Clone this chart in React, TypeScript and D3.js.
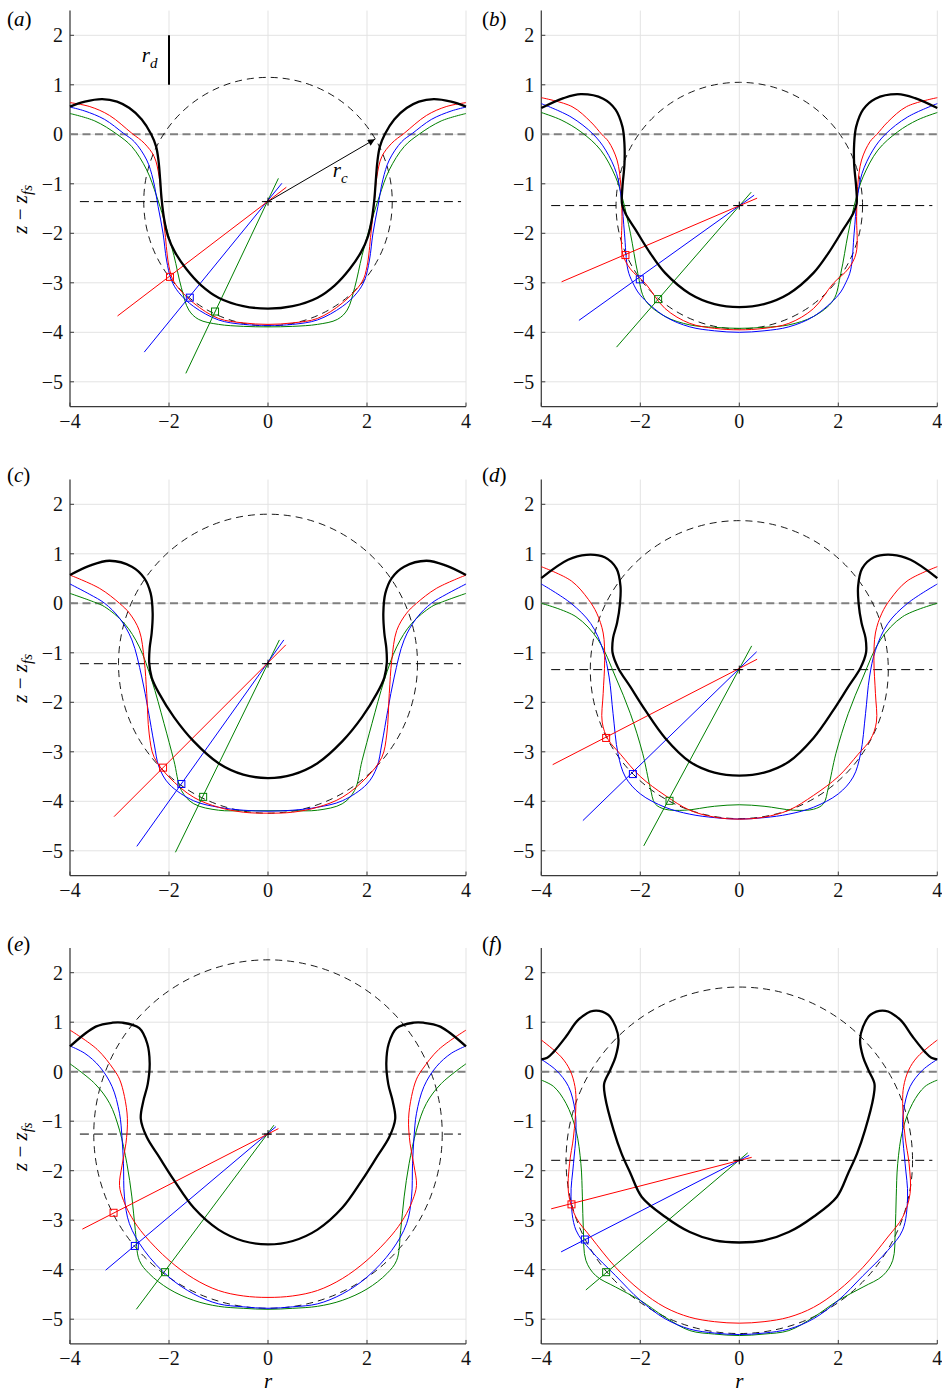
import React from 'react';
import * as d3 from 'd3';

type Pt = [number, number];

const panelLetters = ['a', 'b', 'c', 'd', 'e', 'f'];
const yTicks = [2, 1, 0, -1, -2, -3, -4, -5];
const xTicks = [-4, -2, 0, 2, 4];

// fitted cavity circle: centre height z_c and radius r_c
const circleZc = [-1.36, -1.44, -1.22, -1.34, -1.26, -1.79];
const circleRc = [2.51, 2.49, 3.02, 3.01, 3.52, 3.5];
const centreLineSpan = [-3.8, 3.9];

// black profiles (r >= 0 half, from the axis outwards)
const blackA: Pt[] = [[0, -3.52], [0.5, -3.47], [1.0, -3.3], [1.35, -3.05], [1.65, -2.72], [1.88, -2.38], [2.02, -2.06], [2.1, -1.7], [2.15, -1.3], [2.18, -0.9], [2.21, -0.55], [2.26, -0.25], [2.36, 0.0], [2.55, 0.3], [2.8, 0.53], [3.05, 0.66], [3.35, 0.71], [3.7, 0.66], [4.0, 0.56]];
const blackB: Pt[] = [[0, -3.49], [0.5, -3.43], [1.0, -3.22], [1.5, -2.8], [1.8, -2.4], [2.1, -1.92], [2.3, -1.6], [2.37, -1.4], [2.36, -1.06], [2.32, -0.6], [2.32, -0.2], [2.36, 0.15], [2.5, 0.5], [2.75, 0.72], [3.2, 0.81], [3.55, 0.73], [4.0, 0.53]];
const blackC: Pt[] = [[0, -3.53], [0.5, -3.46], [1.0, -3.23], [1.5, -2.79], [1.9, -2.3], [2.2, -1.82], [2.35, -1.5], [2.4, -1.2], [2.39, -0.9], [2.35, -0.6], [2.33, -0.2], [2.37, 0.2], [2.5, 0.51], [2.75, 0.74], [3.2, 0.86], [3.6, 0.76], [4.0, 0.57]];
const blackD: Pt[] = [[0, -3.48], [0.5, -3.42], [1.0, -3.2], [1.5, -2.72], [1.9, -2.16], [2.2, -1.69], [2.45, -1.3], [2.56, -1.0], [2.55, -0.7], [2.47, -0.4], [2.41, 0.0], [2.4, 0.34], [2.48, 0.7], [2.72, 0.93], [3.09, 0.98], [3.46, 0.88], [4.0, 0.51]];
const blackE: Pt[] = [[0, -3.49], [0.5, -3.42], [1.0, -3.19], [1.5, -2.75], [1.9, -2.19], [2.2, -1.72], [2.45, -1.32], [2.57, -0.95], [2.52, -0.6], [2.43, -0.25], [2.39, 0.17], [2.44, 0.57], [2.6, 0.88], [2.94, 0.99], [3.14, 0.99], [3.48, 0.91], [4.0, 0.51]];
const blackF: Pt[] = [[0, -3.45], [0.5, -3.41], [1.0, -3.24], [1.5, -2.93], [1.97, -2.53], [2.2, -2.05], [2.38, -1.65], [2.54, -1.18], [2.71, -0.51], [2.73, -0.24], [2.61, 0.03], [2.5, 0.3], [2.44, 0.64], [2.5, 0.91], [2.65, 1.15], [2.95, 1.23], [3.25, 1.05], [3.5, 0.71], [3.75, 0.4], [3.88, 0.28], [4.0, 0.25]];

// red, blue, green profiles (r >= 0 half)
const redA: Pt[] = [[0, -3.84], [0.5, -3.81], [1.0, -3.72], [1.5, -3.41], [1.9, -2.98], [2.0, -2.67], [2.08, -2.0], [2.15, -1.33], [2.2, -0.85], [2.3, -0.45], [2.5, -0.18], [2.75, 0.02], [3.2, 0.38], [3.6, 0.56], [4.0, 0.64]];
const blueA: Pt[] = [[0, -3.86], [0.5, -3.84], [1.0, -3.75], [1.5, -3.48], [1.8, -3.2], [1.95, -2.95], [2.05, -2.54], [2.12, -2.0], [2.22, -1.46], [2.32, -0.92], [2.45, -0.52], [2.7, -0.15], [2.92, 0.02], [3.3, 0.3], [3.7, 0.47], [4.0, 0.55]];
const greenA: Pt[] = [[0, -3.89], [0.5, -3.88], [1.0, -3.84], [1.4, -3.74], [1.6, -3.55], [1.75, -3.1], [1.9, -2.45], [2.05, -1.9], [2.25, -1.25], [2.45, -0.72], [2.75, -0.25], [3.05, 0.0], [3.5, 0.27], [4.0, 0.42]];

const redB: Pt[] = [[0, -3.95], [0.5, -3.92], [1.0, -3.82], [1.5, -3.52], [1.9, -3.01], [2.2, -2.72], [2.36, -2.4], [2.37, -1.66], [2.39, -1.06], [2.47, -0.52], [2.64, -0.15], [2.78, 0.0], [3.0, 0.25], [3.38, 0.56], [4.0, 0.74]];
const blueB: Pt[] = [[0, -4.0], [0.5, -3.97], [1.0, -3.89], [1.5, -3.68], [2.0, -3.25], [2.15, -3.0], [2.25, -2.74], [2.32, -2.0], [2.38, -1.33], [2.48, -0.79], [2.7, -0.32], [2.95, 0.0], [3.4, 0.35], [4.0, 0.62]];
const greenB: Pt[] = [[0, -3.92], [0.5, -3.9], [1.0, -3.85], [1.5, -3.68], [1.9, -3.35], [2.05, -2.81], [2.2, -2.0], [2.35, -1.33], [2.5, -0.86], [2.8, -0.32], [3.2, 0.05], [3.6, 0.29], [4.0, 0.44]];

const redC: Pt[] = [[0, -4.24], [0.5, -4.22], [1.0, -4.12], [1.5, -3.92], [2.0, -3.51], [2.3, -3.11], [2.4, -2.64], [2.45, -1.82], [2.5, -1.15], [2.6, -0.55], [2.8, -0.2], [3.0, 0.0], [3.4, 0.3], [4.0, 0.57]];
const blueC: Pt[] = [[0, -4.2], [0.5, -4.18], [1.0, -4.12], [1.5, -3.99], [2.0, -3.65], [2.2, -3.31], [2.3, -2.84], [2.42, -2.16], [2.55, -1.49], [2.75, -0.74], [3.0, -0.3], [3.3, 0.0], [3.6, 0.18], [4.0, 0.39]];
const greenC: Pt[] = [[0, -4.19], [0.5, -4.19], [1.0, -4.18], [1.5, -4.05], [1.75, -3.78], [1.9, -3.18], [2.1, -2.43], [2.35, -1.55], [2.6, -0.88], [2.9, -0.41], [3.3, -0.07], [3.5, 0.02], [4.0, 0.2]];

const redD: Pt[] = [[0, -4.36], [0.5, -4.32], [1.0, -4.18], [1.5, -3.88], [2.0, -3.5], [2.4, -3.05], [2.65, -2.75], [2.77, -2.4], [2.75, -1.82], [2.72, -1.15], [2.75, -0.6], [2.88, -0.2], [3.05, 0.08], [3.39, 0.45], [4.0, 0.74]];
const blueD: Pt[] = [[0, -4.36], [0.5, -4.33], [1.0, -4.26], [1.5, -4.12], [2.0, -3.85], [2.3, -3.51], [2.45, -3.04], [2.55, -2.23], [2.63, -1.49], [2.75, -0.95], [3.0, -0.41], [3.4, 0.0], [4.0, 0.39]];
const greenD: Pt[] = [[0, -4.07], [0.5, -4.1], [1.1, -4.18], [1.5, -4.16], [1.7, -4.05], [1.8, -3.72], [1.95, -3.04], [2.2, -2.23], [2.5, -1.49], [2.85, -0.74], [3.3, -0.27], [4.0, 0.0]];

const redE: Pt[] = [[0, -4.56], [0.5, -4.53], [1.0, -4.42], [1.5, -4.18], [2.0, -3.81], [2.5, -3.3], [2.75, -2.95], [2.92, -2.6], [3.0, -2.3], [2.95, -1.9], [2.87, -1.45], [2.84, -0.95], [2.9, -0.5], [3.0, -0.15], [3.12, 0.05], [3.45, 0.45], [4.0, 0.84]];
const blueE: Pt[] = [[0, -4.78], [0.5, -4.75], [1.0, -4.69], [1.5, -4.49], [2.0, -4.15], [2.5, -3.61], [2.8, -3.07], [2.9, -2.53], [2.92, -1.86], [2.95, -1.32], [3.0, -0.84], [3.15, -0.3], [3.4, 0.1], [3.7, 0.37], [4.0, 0.52]];
const greenE: Pt[] = [[0, -4.8], [0.5, -4.78], [1.0, -4.74], [1.5, -4.62], [2.0, -4.39], [2.4, -4.08], [2.6, -3.81], [2.68, -3.21], [2.75, -2.53], [2.85, -1.86], [3.0, -1.18], [3.2, -0.64], [3.5, -0.24], [4.0, 0.16]];

const redF: Pt[] = [[0, -5.08], [0.5, -5.05], [1.0, -4.96], [1.5, -4.76], [2.0, -4.42], [2.5, -3.95], [3.0, -3.34], [3.3, -2.94], [3.45, -2.46], [3.43, -1.86], [3.35, -1.32], [3.3, -0.64], [3.32, -0.3], [3.42, 0.03], [3.6, 0.3], [4.0, 0.64]];
const blueF: Pt[] = [[0, -5.31], [0.5, -5.28], [1.0, -5.2], [1.5, -4.99], [2.0, -4.62], [2.5, -4.12], [3.0, -3.61], [3.3, -3.2], [3.4, -2.53], [3.35, -1.86], [3.3, -1.25], [3.32, -0.78], [3.45, -0.3], [3.7, 0.03], [4.0, 0.25]];
const greenF: Pt[] = [[0, -5.33], [0.5, -5.3], [1.0, -5.23], [1.5, -4.96], [2.0, -4.62], [2.5, -4.35], [2.9, -4.12], [3.1, -3.81], [3.15, -3.2], [3.17, -2.53], [3.2, -1.86], [3.3, -1.18], [3.5, -0.64], [3.75, -0.3], [4.0, -0.17]];

// rays (red, blue, green): far end, near end and square marker
const farA: Pt[] = [[-3.04, -3.67], [-2.5, -4.4], [-1.66, -4.83]];
const nearA: Pt[] = [[0.37, -1.07], [0.28, -0.99], [0.21, -0.89]];
const markA: Pt[] = [[-1.98, -2.88], [-1.58, -3.3], [-1.07, -3.58]];
const farB: Pt[] = [[-3.59, -2.98], [-3.24, -3.76], [-2.48, -4.3]];
const nearB: Pt[] = [[0.36, -1.29], [0.3, -1.23], [0.24, -1.17]];
const markB: Pt[] = [[-2.3, -2.44], [-2.01, -2.93], [-1.64, -3.33]];
const farC: Pt[] = [[-3.11, -4.31], [-2.65, -4.91], [-1.87, -5.03]];
const nearC: Pt[] = [[0.36, -0.84], [0.32, -0.74], [0.23, -0.74]];
const markC: Pt[] = [[-2.12, -3.32], [-1.75, -3.65], [-1.31, -3.91]];
const farD: Pt[] = [[-3.77, -3.26], [-3.16, -4.39], [-1.93, -4.9]];
const nearD: Pt[] = [[0.36, -1.13], [0.35, -0.98], [0.25, -0.86]];
const markD: Pt[] = [[-2.69, -2.72], [-2.15, -3.45], [-1.41, -3.99]];
const farE: Pt[] = [[-3.75, -3.18], [-3.28, -4.01], [-2.66, -4.8]];
const nearE: Pt[] = [[0.21, -1.15], [0.16, -1.11], [0.12, -1.08]];
const markE: Pt[] = [[-3.12, -2.85], [-2.69, -3.52], [-2.08, -4.05]];
const farF: Pt[] = [[-3.8, -2.77], [-3.6, -3.64], [-3.1, -4.41]];
const nearF: Pt[] = [[0.25, -1.73], [0.2, -1.69], [0.17, -1.64]];
const markF: Pt[] = [[-3.39, -2.68], [-3.12, -3.39], [-2.69, -4.05]];

// annotations in panel (a)
const rcArrowTip: Pt = [2.16, -0.1];
const rdBar: Pt[] = [[-2, 1], [-2, 2]];

const blacks = [blackA, blackB, blackC, blackD, blackE, blackF];
const colored = [
  [redA, blueA, greenA], [redB, blueB, greenB], [redC, blueC, greenC],
  [redD, blueD, greenD], [redE, blueE, greenE], [redF, blueF, greenF],
];
const fars = [farA, farB, farC, farD, farE, farF];
const nears = [nearA, nearB, nearC, nearD, nearE, nearF];
const marks = [markA, markB, markC, markD, markE, markF];

const seriesColors = ['#ff0000', '#0000ff', '#008000'];
const serif = { fontFamily: '"Liberation Serif", "Times New Roman", serif' };
const colX0 = [268, 739.3];
const rowY0 = [134.3, 603.3, 1071.7];
const letterBase = [26, 482, 951];
const U = 49.5;

const fmt = (t: number) => (t < 0 ? '\u2212' + Math.abs(t) : String(t));
const mirror = (pts: Pt[]): Pt[] => [
  ...pts.slice(1).map(([r, z]) => [-r, z] as Pt).reverse(),
  ...pts,
];

const Panel = ({ idx }: { idx: number }) => {
  const col = idx % 2;
  const row = Math.floor(idx / 2);
  const x0 = colX0[col];
  const y0 = rowY0[row];
  const x = d3.scaleLinear().domain([-4, 4]).range([x0 - 4 * U, x0 + 4 * U]);
  const y = d3.scaleLinear().domain([-5.5, 2.5]).range([y0 + 5.5 * U, y0 - 2.5 * U]);
  const line = d3.line<Pt>().x(d => x(d[0])).y(d => y(d[1])).curve(d3.curveCatmullRom.alpha(0.5));
  const zc = circleZc[idx];
  const rc = circleRc[idx];
  const left = x(-4), right = x(4), top = y(2.5), bottom = y(-5.5);
  const axisColor = '#3a3a3a';
  const order = [2, 1, 0];

  return (
    <g>
      {/* grid */}
      {xTicks.map(t => (
        <line key={'gx' + t} x1={x(t)} x2={x(t)} y1={top} y2={bottom} stroke="#e3e3e3" strokeWidth={1} />
      ))}
      {yTicks.map(t => (
        <line key={'gy' + t} x1={left} x2={right} y1={y(t)} y2={y(t)} stroke="#e3e3e3" strokeWidth={1} />
      ))}
      {/* spines and ticks */}
      <line x1={left} x2={left} y1={top} y2={bottom} stroke={axisColor} strokeWidth={1.2} />
      <line x1={left} x2={right} y1={bottom} y2={bottom} stroke={axisColor} strokeWidth={1.2} />
      {yTicks.map(t => (
        <g key={'ty' + t}>
          <line x1={left} x2={left + 4} y1={y(t)} y2={y(t)} stroke={axisColor} strokeWidth={1} />
          <text x={left - 7} y={y(t) + 7} textAnchor="end" style={serif} fontSize={20} fill="#111">{fmt(t)}</text>
        </g>
      ))}
      {xTicks.map(t => (
        <g key={'tx' + t}>
          <line x1={x(t)} x2={x(t)} y1={bottom} y2={bottom - 4} stroke={axisColor} strokeWidth={1} />
          <text x={x(t)} y={bottom + 21} textAnchor="middle" style={serif} fontSize={20} fill="#111">{fmt(t)}</text>
        </g>
      ))}

      {/* free-surface level */}
      <line x1={left} x2={right} y1={y(0)} y2={y(0)} stroke="#808080" strokeWidth={2} strokeDasharray="8 4.5" />
      {/* centre level */}
      <line x1={x(centreLineSpan[0])} x2={x(centreLineSpan[1])} y1={y(zc)} y2={y(zc)} stroke="#000" strokeWidth={1} strokeDasharray="9 5" />
      {/* fitted circle */}
      <circle cx={x(0)} cy={y(zc)} r={x(rc) - x(0)} fill="none" stroke="#000" strokeWidth={0.9} strokeDasharray="7 5" />

      {/* coloured profiles */}
      {order.map(k => (
        <path key={'c' + k} d={line(mirror(colored[idx][k])) || ''} fill="none" stroke={seriesColors[k]} strokeWidth={1} />
      ))}
      {/* rays and markers */}
      {order.map(k => (
        <g key={'r' + k}>
          <line x1={x(fars[idx][k][0])} y1={y(fars[idx][k][1])} x2={x(nears[idx][k][0])} y2={y(nears[idx][k][1])} stroke={seriesColors[k]} strokeWidth={1} />
          <rect x={x(marks[idx][k][0]) - 3.5} y={y(marks[idx][k][1]) - 3.5} width={7} height={7} fill="none" stroke={seriesColors[k]} strokeWidth={1} />
        </g>
      ))}
      {/* black profile */}
      <path d={line(mirror(blacks[idx])) || ''} fill="none" stroke="#000" strokeWidth={2.3} strokeLinejoin="round" />
      {/* centre cross */}
      <line x1={x(0) - 4} x2={x(0) + 4} y1={y(zc)} y2={y(zc)} stroke="#000" strokeWidth={1} />
      <line x1={x(0)} x2={x(0)} y1={y(zc) - 4} y2={y(zc) + 4} stroke="#000" strokeWidth={1} />

      {idx === 0 && (
        <g>
          <line x1={x(0)} y1={y(zc)} x2={x(rcArrowTip[0])} y2={y(rcArrowTip[1])} stroke="#000" strokeWidth={1} markerEnd="url(#arrowHead)" />
          <text x={x(1.31)} y={y(-0.86)} style={serif} fontSize={21} fontStyle="italic">r<tspan dy={6} fontSize={15}>c</tspan></text>
          <line x1={x(rdBar[0][0])} y1={y(rdBar[0][1])} x2={x(rdBar[1][0])} y2={y(rdBar[1][1])} stroke="#000" strokeWidth={2} />
          <text x={x(-2.55)} y={y(1.46)} style={serif} fontSize={21} fontStyle="italic">r<tspan dy={6} fontSize={15}>d</tspan></text>
        </g>
      )}

      {/* panel letter */}
      <text x={col === 0 ? 7 : 482} y={letterBase[row]} style={serif} fontSize={21}>
        (<tspan fontStyle="italic">{panelLetters[idx]}</tspan>)
      </text>

      {col === 0 && (
        <text transform={`translate(27,${y0 + 75}) rotate(-90)`} textAnchor="middle" style={serif} fontSize={21} fontStyle="italic">
          z <tspan fontStyle="normal">{'\u2212'}</tspan> z<tspan dy={5} fontSize={15}>fs</tspan>
        </text>
      )}
      {row === 2 && (
        <text x={x0} y={1388} textAnchor="middle" style={serif} fontSize={21} fontStyle="italic">r</text>
      )}
    </g>
  );
};

export default function App() {
  return (
    <svg width={942} height={1394} style={{ position: 'absolute', left: 0, top: 0, background: '#fff' }}>
      <defs>
        <marker id="arrowHead" viewBox="0 0 10 10" refX="10" refY="5" markerWidth="9" markerHeight="7" markerUnits="userSpaceOnUse" orient="auto">
          <path d="M0,0 L10,5 L0,10 z" fill="#000" />
        </marker>
      </defs>
      <rect width={942} height={1394} fill="#fff" />
      {[0, 1, 2, 3, 4, 5].map(i => <Panel key={i} idx={i} />)}
    </svg>
  );
}
